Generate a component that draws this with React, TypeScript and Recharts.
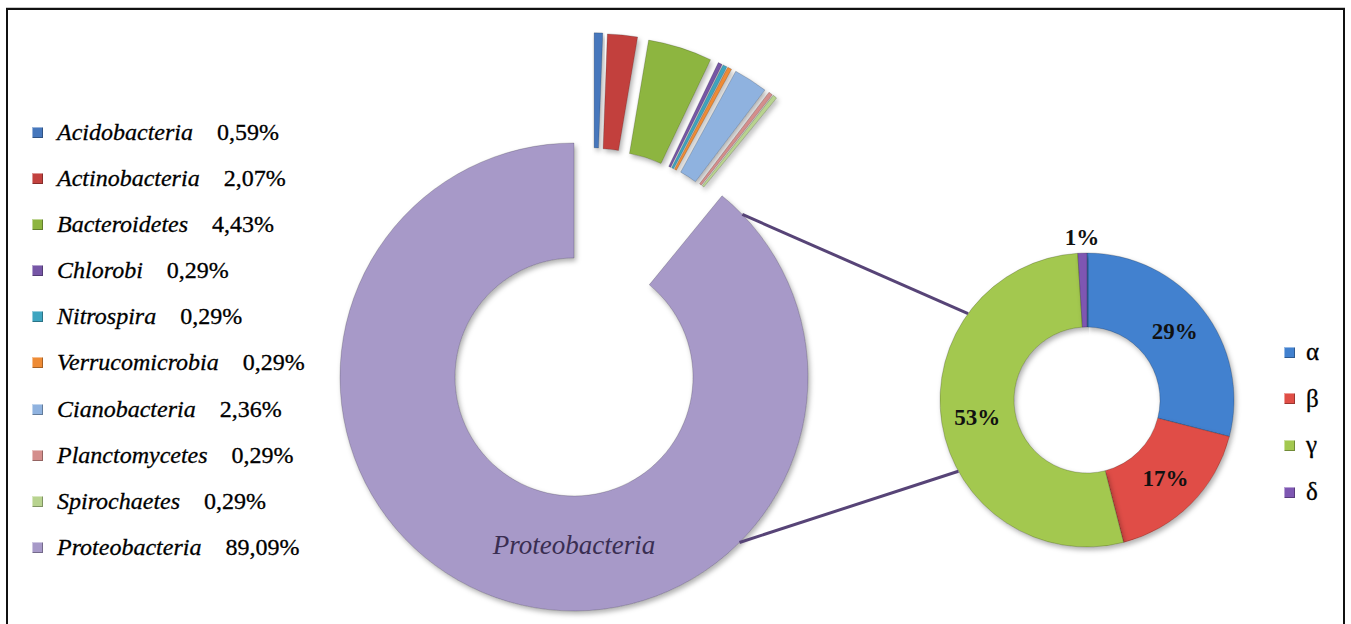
import React from 'react';
import { PieChart, Pie, Cell, Sector } from 'recharts';

// ---- data ----
const phylumNames = [
  'Acidobacteria',
  'Actinobacteria',
  'Bacteroidetes',
  'Chlorobi',
  'Nitrospira',
  'Verrucomicrobia',
  'Cianobacteria',
  'Planctomycetes',
  'Spirochaetes',
  'Proteobacteria',
];
const phylumPercents = [0.59, 2.07, 4.43, 0.29, 0.29, 0.29, 2.36, 0.29, 0.29, 89.09];
const phylumColors = [
  '#4677BC',
  '#C2413E',
  '#8DB53F',
  '#7656A6',
  '#3EA5C0',
  '#EE8B35',
  '#8FB2DF',
  '#D48E8C',
  '#B8D38F',
  '#A799C8',
];

const classNames = ['α', 'β', 'γ', 'δ'];
const classPercents = [29, 17, 53, 1];
const classColors = ['#4281CF', '#E04E46', '#A3C84F', '#7E57B2'];

const phylumData = phylumNames.map((name, i) => ({ name, value: phylumPercents[i] }));
const classData = classNames.map((name, i) => ({ name, value: classPercents[i] }));

// ---- geometry / style ----
const W = 1351;
const H = 624;
const BIG = { cx: 574, cy: 377, inner: 119, outer: 234 };
const EXPLODE = 112;
const EXPLODE_SPREAD = 0.5; // explode directions pulled halfway toward the group's mid angle
const SMALL = { cx: 1087, cy: 400, inner: 73, outer: 147 };
const CONNECT_BIG_ANGLES = [44, -45];
const CONNECT_SMALL_ANGLES = [144, 209];
const RAD = Math.PI / 180;
const SERIF = '"Liberation Serif", "Times New Roman", serif';

const totalPct = phylumPercents.reduce((a, b) => a + b, 0);
const minorPct = phylumPercents.slice(0, -1).reduce((a, b) => a + b, 0);
const MINOR_GROUP_MID = 90 - (360 * minorPct) / totalPct / 2;

const polar = (cx: number, cy: number, r: number, a: number) => ({
  x: cx + r * Math.cos(a * RAD),
  y: cy - r * Math.sin(a * RAD),
});

const fmt = (v: number) => v.toFixed(2).replace('.', ',') + '%';

const renderBigLabel = (props: any) => {
  const { cx, cy, innerRadius, outerRadius, startAngle, endAngle, index } = props;
  if (index < phylumNames.length - 1) {
    const mid = (startAngle + endAngle) / 2;
    const dir = MINOR_GROUP_MID + (mid - MINOR_GROUP_MID) * EXPLODE_SPREAD;
    const dx = EXPLODE * Math.cos(dir * RAD);
    const dy = -EXPLODE * Math.sin(dir * RAD);
    return (
      <Sector
        cx={cx + dx}
        cy={cy + dy}
        innerRadius={innerRadius}
        outerRadius={outerRadius}
        startAngle={startAngle}
        endAngle={endAngle}
        fill={phylumColors[index]}
        stroke="rgba(0,0,0,0.18)"
        strokeWidth={1}
        filter="url(#softShadow)"
      />
    );
  }
  const rMid = (innerRadius + outerRadius) / 2;
  const lines = CONNECT_BIG_ANGLES.map((a, i) => {
    const p1 = polar(cx, cy, outerRadius, a);
    const p2 = polar(SMALL.cx, SMALL.cy, SMALL.outer, CONNECT_SMALL_ANGLES[i]);
    return (
      <line
        key={i}
        x1={p1.x}
        y1={p1.y}
        x2={p2.x}
        y2={p2.y}
        stroke="#574477"
        strokeWidth={3}
      />
    );
  });
  return (
    <g>
      {lines}
      <text
        x={cx}
        y={cy + rMid - 9}
        textAnchor="middle"
        dominantBaseline="central"
        fontFamily={SERIF}
        fontStyle="italic"
        fontSize={27}
        fill="#3A2E52"
      >
        {phylumNames[index]}
      </text>
    </g>
  );
};

const renderSmallLabel = (props: any) => {
  const { cx, cy, innerRadius, outerRadius, startAngle, endAngle, index } = props;
  const mid = (startAngle + endAngle) / 2;
  const outside = index === classNames.length - 1;
  const r = outside ? outerRadius + 16 : (innerRadius + outerRadius) / 2 + 1;
  const p = polar(cx, cy, r, mid);
  return (
    <text
      x={p.x}
      y={p.y}
      textAnchor="middle"
      dominantBaseline="central"
      fontFamily={SERIF}
      fontWeight="bold"
      fontSize={23}
      fill="#111"
    >
      {classPercents[index]}%
    </text>
  );
};

const LegendSquare = ({ color }: { color: string }) => (
  <span
    style={{
      display: 'inline-block',
      width: 11,
      height: 11,
      background: color,
      boxShadow: 'inset 1px 1px 0 rgba(255,255,255,0.45), inset -1px -1px 0 rgba(0,0,0,0.3)',
      marginRight: 14,
      verticalAlign: 'middle',
      position: 'relative',
      top: -2,
    }}
  />
);

export default function App() {
  return (
    <div style={{ position: 'absolute', left: 0, top: 0, width: W, height: H, overflow: 'hidden', background: '#fff' }}>
      <svg width={0} height={0} style={{ position: 'absolute' }}>
        <defs>
          <filter id="softShadow" x="-20%" y="-20%" width="140%" height="140%">
            <feDropShadow dx="2" dy="3" stdDeviation="2.5" floodColor="#000" floodOpacity="0.3" />
          </filter>
        </defs>
      </svg>
      <div
        style={{
          position: 'absolute',
          left: 6,
          top: 8,
          width: 1335,
          height: 700,
          border: '2px solid #111',
          boxShadow: '0 -1px 0 #c8c8c8',
        }}
      />
      <div style={{ position: 'absolute', left: 0, top: 0 }}>
        <PieChart width={W} height={H} margin={{ top: 0, right: 0, bottom: 0, left: 0 }}>
          <Pie
            data={phylumData}
            dataKey="value"
            nameKey="name"
            cx={BIG.cx}
            cy={BIG.cy}
            innerRadius={BIG.inner}
            outerRadius={BIG.outer}
            startAngle={90}
            endAngle={-270}
            stroke="none"
            label={renderBigLabel}
            labelLine={false}
            isAnimationActive={false}
          >
            {phylumData.map((d, i) => (
              <Cell
                key={d.name}
                fill={i === phylumData.length - 1 ? phylumColors[i] : 'transparent'}
                stroke={i === phylumData.length - 1 ? 'rgba(0,0,0,0.18)' : 'none'}
                filter={i === phylumData.length - 1 ? 'url(#softShadow)' : undefined}
              />
            ))}
          </Pie>
          <Pie
            data={classData}
            dataKey="value"
            nameKey="name"
            cx={SMALL.cx}
            cy={SMALL.cy}
            innerRadius={SMALL.inner}
            outerRadius={SMALL.outer}
            startAngle={90}
            endAngle={-270}
            stroke="rgba(0,0,0,0.2)"
            strokeWidth={1}
            label={renderSmallLabel}
            labelLine={false}
            isAnimationActive={false}
          >
            {classData.map((d, i) => (
              <Cell key={d.name} fill={classColors[i]} filter="url(#softShadow)" />
            ))}
          </Pie>
        </PieChart>
      </div>
      {/* left legend */}
      <div
        style={{
          position: 'absolute',
          left: 32,
          top: 117,
          fontFamily: SERIF,
          fontSize: 24,
          color: '#000',
          WebkitTextStroke: '0.3px #000',
        }}
      >
        {phylumNames.map((name, i) => (
          <div key={name} style={{ height: 46.1, lineHeight: '30px', whiteSpace: 'nowrap' }}>
            <LegendSquare color={phylumColors[i]} />
            <span style={{ fontStyle: 'italic' }}>{name}</span>
            <span style={{ marginLeft: 24 }}>{fmt(phylumPercents[i])}</span>
          </div>
        ))}
      </div>
      {/* right legend */}
      <div
        style={{
          position: 'absolute',
          left: 1284,
          top: 337,
          fontFamily: SERIF,
          fontSize: 25,
          color: '#000',
          WebkitTextStroke: '0.3px #000',
        }}
      >
        {classNames.map((name, i) => (
          <div key={name} style={{ height: 46.7, lineHeight: '30px', whiteSpace: 'nowrap' }}>
            <LegendSquare color={classColors[i]} />
            <span style={{ marginLeft: -3 }}>{name}</span>
          </div>
        ))}
      </div>
    </div>
  );
}
